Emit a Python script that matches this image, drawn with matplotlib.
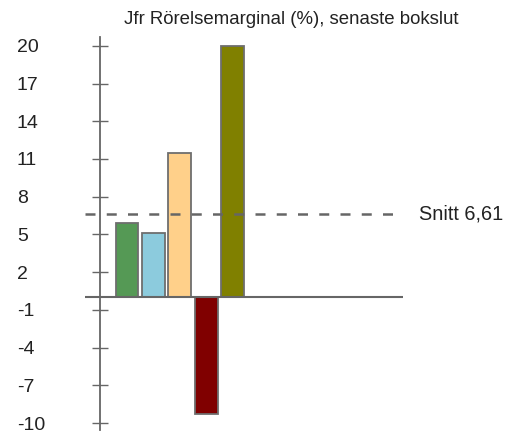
import numpy as np
import matplotlib.pyplot as plt
from matplotlib.transforms import blended_transform_factory

plt.rcParams['font.family'] = ['Liberation Sans', 'DejaVu Sans']

# bar values (%)
values = [5.9, 5.15, 11.5, -9.27, 20.0]
colors = ['#559955', '#8ccbdd', '#ffd08a', '#800000', '#808000']
avg = 6.61
avg_label = 'Snitt 6,61'
yticks = [-10, -7, -4, -1, 2, 5, 8, 11, 14, 17, 20]
title = 'Jfr Rörelsemarginal (%), senaste bokslut'

fig = plt.figure(figsize=(5.08, 4.33), dpi=100)
ax = fig.add_axes([85 / 508, 3 / 433, 318 / 508, 393 / 433])

x = np.arange(len(values))
ax.bar(x, values, width=0.86, color=colors, edgecolor='#6e6e6e',
       linewidth=1.3, zorder=2)

# zero line running across the whole plot area
ax.axhline(0, color='#666666', linewidth=1.5, zorder=3)
# average as a dashed line
ax.axhline(avg, color='#666666', linewidth=1.8, linestyle=(0, (4, 4.5)), zorder=4)
trans = blended_transform_factory(ax.transAxes, ax.transData)
ax.text(1.05, avg, avg_label, transform=trans, va='center', ha='left',
        fontsize=14.3, color='#222222', clip_on=False)

ax.set_xlim(-1.59, 10.45)
ax.set_ylim(-10.55, 20.7)

# only the left axis, placed a little inside the plot area
for side in ['top', 'right', 'bottom']:
    ax.spines[side].set_visible(False)
ax.spines['left'].set_position(('data', -1.02))
ax.spines['left'].set_color('#666666')
ax.spines['left'].set_linewidth(1.3)

ax.set_xticks([])
ax.set_yticks(yticks)
ax.set_yticklabels([str(v) for v in yticks])
ax.tick_params(axis='y', direction='inout', length=11, width=1,
               color='#666666', labelsize=14, labelcolor='#222222', pad=54.3)
for lbl in ax.get_yticklabels():
    lbl.set_horizontalalignment('left')

fig.text(291 / 508, 1 - 20 / 433, title, ha='center', va='center',
         fontsize=13.4, color='#222222')

fig.savefig('out.png', dpi=100)
